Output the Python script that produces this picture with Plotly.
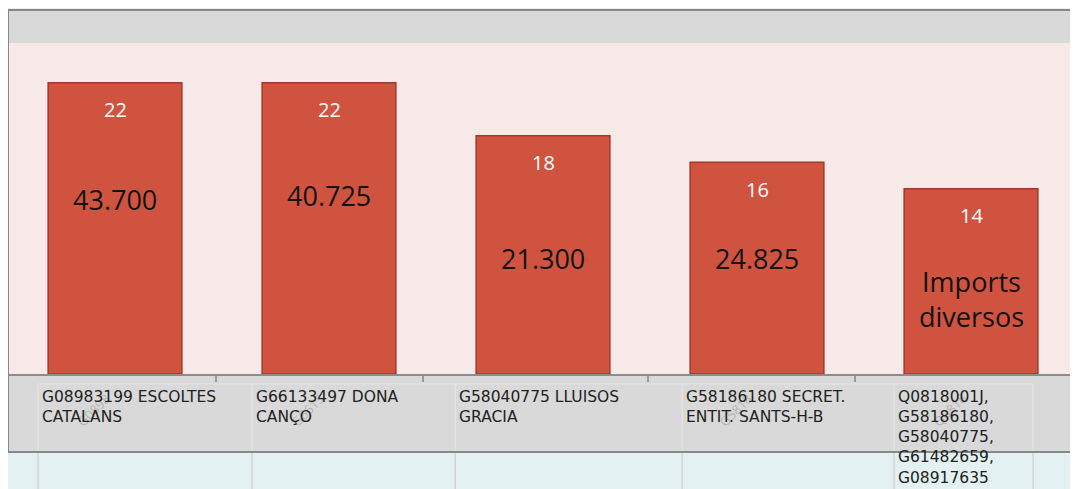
import plotly.graph_objects as go

# ---- data ----
categories = [
    "G08983199 ESCOLTES<br>CATALANS",
    "G66133497 DONA<br>CANÇO",
    "G58040775 LLUISOS<br>GRACIA",
    "G58186180 SECRET.<br>ENTIT. SANTS-H-B",
    "Q0818001J,<br>G58186180,<br>G58040775,<br>G61482659,<br>G08917635",
]
counts = [22, 22, 18, 16, 14]
amounts = ["43.700", "40.725", "21.300", "24.825", "Imports<br>diversos"]
ghost_labels = ["G0898", "G6613", "", "G5818", "Q0818"]

# ---- style / layout ----
OFF = 8                      # page body margin of the browser
W, H = 1078 - OFF, 489 - OFF
BAR_FILL = "#D0533F"
BAR_LINE = "#A3392B"
PINK = "#F6E9E8"
GREY = "#D9D9D9"
CYAN = "#E3F1F3"
FONT = "Open Sans"
LABEL_FONT = "DejaVu Sans"

# pixel offsets (from bar top) of the big amount labels
amount_offsets = [117, 113, 123, 96, 110]

x_idx = list(range(len(counts)))


def px_y(p):
    return 1 - (p - OFF) / H


def px_x(p):
    return (p - OFF) / W


fig = go.Figure()
fig.add_trace(go.Bar(
    x=x_idx, y=counts,
    marker=dict(color=BAR_FILL, line=dict(color=BAR_LINE, width=1.5)),
    width=0.625,
    hoverinfo="skip",
))

shapes = []
# outer grey panel
shapes.append(dict(type="rect", xref="paper", yref="paper",
                   x0=px_x(8), x1=px_x(1095), y0=px_y(452), y1=px_y(10),
                   fillcolor=GREY, line=dict(color="#888888", width=2), layer="below"))
# pink plotting area
shapes.append(dict(type="rect", xref="paper", yref="paper",
                   x0=px_x(9), x1=1, y0=px_y(374), y1=px_y(43),
                   fillcolor=PINK, line=dict(width=0), layer="below"))

# table cell lines under the axis
cell_left = [i - 0.36 for i in x_idx] + [4.29]
cell_left[2] = 2 - 0.41
cell_left[3] = 3 - 0.35
for cx in cell_left:
    shapes.append(dict(type="line", xref="x", yref="paper", x0=cx, x1=cx,
                       y0=px_y(452), y1=px_y(384), line=dict(color="#E8E8E8", width=1)))
    shapes.append(dict(type="line", xref="x", yref="paper", x0=cx, x1=cx,
                       y0=0, y1=px_y(453), line=dict(color="#CDCDCD", width=1.2)))
shapes.append(dict(type="line", xref="x", yref="paper", x0=cell_left[0], x1=cell_left[-1],
                   y0=px_y(384), y1=px_y(384), line=dict(color="#E4E4E4", width=1)))
# bottom border of panel
shapes.append(dict(type="line", xref="paper", yref="paper", x0=px_x(8), x1=1,
                   y0=px_y(452), y1=px_y(452), line=dict(color="#888888", width=2)))

annotations = []
for i, (c, a, off, lab, g) in enumerate(zip(counts, amounts, amount_offsets, categories, ghost_labels)):
    annotations.append(dict(x=i, y=c, xref="x", yref="y", text=str(c), showarrow=False,
                            yshift=-27, yanchor="middle",
                            font=dict(family=FONT, size=20, color="white")))
    annotations.append(dict(x=i, y=c, xref="x", yref="y", text=a, showarrow=False,
                            yshift=-off, yanchor="middle",
                            font=dict(family=FONT, size=27, color="#111111")))
    if g:
        annotations.append(dict(x=i - 0.1, y=px_y(410), xref="x", yref="paper", text=g,
                                showarrow=False, textangle=-45,
                                xanchor="center", yanchor="middle",
                                font=dict(family=FONT, size=13, color="rgba(140,140,140,0.5)")))
    annotations.append(dict(x=cell_left[i], y=px_y(386), xref="x", yref="paper", text=lab,
                            showarrow=False, xanchor="left", yanchor="top", align="left",
                            xshift=2,
                            font=dict(family=LABEL_FONT, size=15.5, color="#222222")))

fig.update_layout(
    width=W, height=H,
    margin=dict(l=0, r=0, t=0, b=0),
    paper_bgcolor=CYAN,
    plot_bgcolor=PINK,
    showlegend=False,
    shapes=shapes,
    annotations=annotations,
    xaxis=dict(domain=[px_x(8), 1], range=[-0.5, 4.5], showgrid=False, zeroline=False,
               tickmode="array", tickvals=[0.47, 1.44, 2.49, 3.46], ticktext=["", "", "", ""],
               ticks="outside", ticklen=6, tickcolor="#999999", tickwidth=1.5,
               showline=True, linecolor="#8C8C8C", linewidth=2, fixedrange=True),
    yaxis=dict(domain=[px_y(374), px_y(43)], range=[0, 25], showgrid=False, zeroline=False,
               showticklabels=False, showline=False, fixedrange=True),
)

fig.write_html("out.html")
